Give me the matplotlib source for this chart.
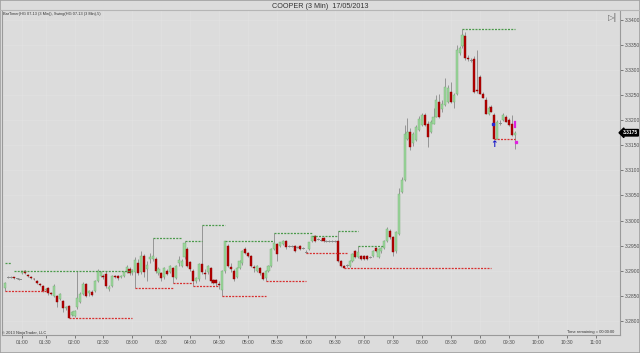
import numpy as np
import matplotlib
matplotlib.use("Agg")
import matplotlib.pyplot as plt
from matplotlib.patches import Rectangle
import matplotlib.transforms as mtransforms

plt.rcParams['font.family'] = ['Liberation Sans', 'DejaVu Sans']

# ---------------- data ----------------
title = "COOPER (3 Min)  17/05/2013"
indicator_text = "BarTimer(HG 07-13 (3 Min)), Swing(HG 07-13 (3 Min),5)"
copyright_text = "\u00a9 2013 NinjaTrader, LLC"
timer_text = "Time remaining = 00:00:00"

# bar open times in minutes after midnight (two bars missing after 01:09)
bar_minutes = np.concatenate([np.arange(42, 70, 3), np.arange(78, 577, 3)])

opens = [
    3.2865, 3.2888, 3.2888, 3.2887, 3.2885, 3.2884, 3.2895, 3.2900, 3.2892, 3.2888,
    3.2884, 3.2880, 3.2874, 3.2870, 3.2862, 3.2866, 3.2856, 3.2850, 3.2849, 3.2844,
    3.2839, 3.2826, 3.2829, 3.2812, 3.2810, 3.2827, 3.2838, 3.2853, 3.2873, 3.2856,
    3.2858, 3.2860, 3.2880, 3.2890, 3.2890, 3.2893, 3.2864, 3.2870, 3.2890, 3.2890,
    3.2888, 3.2890, 3.2897, 3.2904, 3.2895, 3.2898, 3.2915, 3.2897, 3.2930, 3.2904,
    3.2924, 3.2924, 3.2924, 3.2896, 3.2895, 3.2888, 3.2900, 3.2898, 3.2905, 3.2885,
    3.2916, 3.2910, 3.2927, 3.2943, 3.2917, 3.2900, 3.2880, 3.2883, 3.2913, 3.2896,
    3.2897, 3.2905, 3.2881, 3.2881, 3.2874, 3.2861, 3.2900, 3.2950, 3.2908, 3.2900,
    3.2888, 3.2905, 3.2915, 3.2943, 3.2935, 3.2930, 3.2908, 3.2900, 3.2905, 3.2895,
    3.2885, 3.2900, 3.2910, 3.2943, 3.2953, 3.2950, 3.2953, 3.2960, 3.2950, 3.2950,
    3.2950, 3.2948, 3.2950, 3.2946, 3.2938, 3.2943, 3.2959, 3.2970, 3.2964, 3.2962,
    3.2965, 3.2960, 3.2960, 3.2960, 3.2960, 3.2960, 3.2920, 3.2910, 3.2912, 3.2910,
    3.2919, 3.2940, 3.2927, 3.2930, 3.2930, 3.2930, 3.2928, 3.2930, 3.2945, 3.2927,
    3.2939, 3.2945, 3.2960, 3.2980, 3.2967, 3.2940, 3.2973, 3.3057, 3.3080, 3.3163,
    3.3177, 3.3154, 3.3160, 3.3180, 3.3190, 3.3210, 3.3193, 3.3177, 3.3193, 3.3207,
    3.3237, 3.3223, 3.3230, 3.3237, 3.3257, 3.3237, 3.3253, 3.3333, 3.3347, 3.3367,
    3.3324, 3.3320, 3.3321, 3.3260, 3.3287, 3.3252, 3.3240, 3.3212, 3.3227, 3.3210,
    3.3163, 3.3194, 3.3200, 3.3207, 3.3201, 3.3192, 3.3170,
]
highs = [
    3.2878, 3.2890, 3.2889, 3.2888, 3.2886, 3.2886, 3.2900, 3.2901, 3.2894, 3.2890,
    3.2885, 3.2882, 3.2876, 3.2872, 3.2865, 3.2868, 3.2858, 3.2874, 3.2852, 3.2856,
    3.2842, 3.2830, 3.2832, 3.2820, 3.2822, 3.2900, 3.2858, 3.2878, 3.2876, 3.2862,
    3.2862, 3.2882, 3.2904, 3.2899, 3.2894, 3.2900, 3.2872, 3.2892, 3.2892, 3.2892,
    3.2892, 3.2900, 3.2912, 3.2908, 3.2904, 3.2927, 3.2924, 3.2940, 3.2934, 3.2920,
    3.2936, 3.2965, 3.2928, 3.2908, 3.2898, 3.2908, 3.2904, 3.2912, 3.2908, 3.2912,
    3.2930, 3.2924, 3.2960, 3.2948, 3.2920, 3.2904, 3.2888, 3.2916, 3.2991, 3.2904,
    3.2912, 3.2908, 3.2884, 3.2884, 3.2880, 3.2902, 3.2960, 3.2954, 3.2916, 3.2904,
    3.2908, 3.2922, 3.2942, 3.2948, 3.2938, 3.2932, 3.2912, 3.2912, 3.2908, 3.2898,
    3.2902, 3.2912, 3.2946, 3.2975, 3.2956, 3.2958, 3.2962, 3.2962, 3.2952, 3.2952,
    3.2952, 3.2950, 3.2952, 3.2948, 3.2942, 3.2958, 3.2970, 3.2971, 3.2966, 3.2964,
    3.2968, 3.2962, 3.2962, 3.2962, 3.2962, 3.2979, 3.2922, 3.2912, 3.2914, 3.2922,
    3.2936, 3.2942, 3.2950, 3.2932, 3.2932, 3.2932, 3.2930, 3.2942, 3.2948, 3.2946,
    3.2948, 3.2962, 3.2988, 3.2984, 3.2970, 3.2980, 3.3064, 3.3087, 3.3190, 3.3204,
    3.3184, 3.3176, 3.3190, 3.3208, 3.3214, 3.3214, 3.3198, 3.3200, 3.3224, 3.3250,
    3.3253, 3.3240, 3.3284, 3.3270, 3.3276, 3.3254, 3.3350, 3.3348, 3.3382, 3.3376,
    3.3330, 3.3324, 3.3328, 3.3340, 3.3290, 3.3256, 3.3246, 3.3228, 3.3230, 3.3214,
    3.3200, 3.3200, 3.3214, 3.3210, 3.3204, 3.3210, 3.3178,
]
lows = [
    3.2859, 3.2886, 3.2886, 3.2884, 3.2883, 3.2882, 3.2894, 3.2894, 3.2888, 3.2884,
    3.2881, 3.2874, 3.2870, 3.2858, 3.2860, 3.2852, 3.2852, 3.2848, 3.2827, 3.2842,
    3.2818, 3.2822, 3.2805, 3.2810, 3.2808, 3.2824, 3.2836, 3.2852, 3.2848, 3.2850,
    3.2850, 3.2858, 3.2878, 3.2888, 3.2884, 3.2866, 3.2860, 3.2868, 3.2886, 3.2882,
    3.2886, 3.2888, 3.2896, 3.2892, 3.2892, 3.2865, 3.2892, 3.2894, 3.2888, 3.2880,
    3.2916, 3.2920, 3.2896, 3.2892, 3.2880, 3.2884, 3.2892, 3.2896, 3.2875, 3.2884,
    3.2910, 3.2908, 3.2924, 3.2908, 3.2900, 3.2869, 3.2876, 3.2880, 3.2894, 3.2884,
    3.2894, 3.2876, 3.2874, 3.2869, 3.2864, 3.2849, 3.2896, 3.2908, 3.2898, 3.2880,
    3.2886, 3.2904, 3.2912, 3.2934, 3.2928, 3.2908, 3.2898, 3.2898, 3.2892, 3.2882,
    3.2880, 3.2898, 3.2908, 3.2942, 3.2920, 3.2948, 3.2952, 3.2944, 3.2948, 3.2948,
    3.2938, 3.2946, 3.2942, 3.2944, 3.2935, 3.2942, 3.2958, 3.2958, 3.2962, 3.2960,
    3.2958, 3.2958, 3.2958, 3.2958, 3.2958, 3.2918, 3.2908, 3.2905, 3.2908, 3.2908,
    3.2918, 3.2926, 3.2926, 3.2922, 3.2922, 3.2922, 3.2926, 3.2928, 3.2938, 3.2926,
    3.2936, 3.2944, 3.2958, 3.2964, 3.2930, 3.2936, 3.2972, 3.3054, 3.3078, 3.3160,
    3.3140, 3.3148, 3.3158, 3.3178, 3.3188, 3.3188, 3.3147, 3.3174, 3.3192, 3.3206,
    3.3204, 3.3216, 3.3228, 3.3234, 3.3234, 3.3224, 3.3250, 3.3330, 3.3344, 3.3320,
    3.3318, 3.3316, 3.3254, 3.3254, 3.3252, 3.3244, 3.3212, 3.3210, 3.3216, 3.3162,
    3.3162, 3.3190, 3.3198, 3.3196, 3.3188, 3.3168, 3.3143,
]
closes = [
    3.2875, 3.2888, 3.2888, 3.2886, 3.2885, 3.2884, 3.2899, 3.2895, 3.2890, 3.2886,
    3.2883, 3.2875, 3.2872, 3.2859, 3.2864, 3.2855, 3.2854, 3.2870, 3.2837, 3.2854,
    3.2825, 3.2828, 3.2806, 3.2818, 3.2820, 3.2845, 3.2854, 3.2873, 3.2850, 3.2860,
    3.2852, 3.2880, 3.2900, 3.2898, 3.2888, 3.2870, 3.2868, 3.2890, 3.2888, 3.2885,
    3.2890, 3.2898, 3.2907, 3.2895, 3.2902, 3.2922, 3.2895, 3.2930, 3.2897, 3.2912,
    3.2928, 3.2930, 3.2900, 3.2904, 3.2885, 3.2905, 3.2893, 3.2910, 3.2888, 3.2910,
    3.2922, 3.2920, 3.2955, 3.2910, 3.2903, 3.2880, 3.2885, 3.2913, 3.2897, 3.2894,
    3.2910, 3.2879, 3.2875, 3.2875, 3.2872, 3.2900, 3.2959, 3.2910, 3.2904, 3.2883,
    3.2905, 3.2920, 3.2940, 3.2935, 3.2930, 3.2910, 3.2906, 3.2910, 3.2895, 3.2883,
    3.2900, 3.2910, 3.2943, 3.2955, 3.2933, 3.2957, 3.2960, 3.2947, 3.2950, 3.2950,
    3.2940, 3.2948, 3.2943, 3.2946, 3.2938, 3.2957, 3.2969, 3.2960, 3.2964, 3.2962,
    3.2959, 3.2960, 3.2960, 3.2960, 3.2960, 3.2920, 3.2910, 3.2906, 3.2912, 3.2920,
    3.2933, 3.2927, 3.2937, 3.2923, 3.2924, 3.2924, 3.2928, 3.2940, 3.2939, 3.2943,
    3.2945, 3.2960, 3.2983, 3.2967, 3.2937, 3.2977, 3.3053, 3.3080, 3.3173, 3.3177,
    3.3147, 3.3172, 3.3187, 3.3203, 3.3210, 3.3190, 3.3167, 3.3197, 3.3207, 3.3240,
    3.3207, 3.3233, 3.3267, 3.3264, 3.3237, 3.3250, 3.3340, 3.3343, 3.3370, 3.3323,
    3.3322, 3.3320, 3.3257, 3.3258, 3.3253, 3.3245, 3.3213, 3.3225, 3.3217, 3.3163,
    3.3197, 3.3194, 3.3211, 3.3197, 3.3190, 3.3170, 3.3175,
]

# swing lines: price level, first bar, last bar
swing_high_price = [3.2915, 3.2900, 3.2965, 3.2960, 3.2991, 3.2960, 3.2975, 3.2970, 3.2979, 3.2950, 3.3382]
swing_high_from = [0, 3, 51, 62, 68, 76, 93, 106, 115, 122, 158]
swing_high_to = [2, 44, 61, 68, 76, 93, 106, 115, 122, 131, 176]
swing_low_price = [3.2859, 3.2805, 3.2865, 3.2875, 3.2869, 3.2849, 3.2880, 3.2935, 3.2905, 3.3162]
swing_low_from = [0, 22, 45, 58, 65, 75, 90, 104, 117, 169]
swing_low_to = [14, 44, 58, 65, 74, 90, 104, 118, 168, 176]

# signal markers
up_arrow_bar, up_arrow_price = 169, 3.3151
blue_dot_bar, blue_dot_price = 169, 3.3192
pink_bar_bar, pink_bar_low, pink_bar_high = 176, 3.3187, 3.3197
pink_dot_bar, pink_dot_price = 176, 3.3157

tick_labels = ["01:00", "01:30", "02:00", "02:30", "03:00", "03:30", "04:00", "04:30",
               "05:00", "05:30", "06:00", "06:30", "07:00", "07:30", "08:00", "08:30",
               "09:00", "09:30", "10:00", "10:30", "11:00"]
price_ticks = [3.2800, 3.2850, 3.2900, 3.2950, 3.3000, 3.3050, 3.3100, 3.3150,
               3.3200, 3.3250, 3.3300, 3.3350, 3.3400]
last_price = 3.3175

# ---------------- styling ----------------
BG = "#dcdcdc"
UP_FILL = "#9cd69c"
UP_EDGE = "#74b074"
DN_FILL = "#b40000"
DN_EDGE = "#8a0000"
WICK = "#8a8a8a"
SW_HIGH = "#4b9a4b"
SW_LOW = "#d83030"
TXT = "#505050"

W, H = 640, 353
fig = plt.figure(figsize=(W / 100, H / 100), dpi=100, facecolor=BG)
ax = fig.add_axes([2 / W, (H - 335) / H, 618 / W, 324 / H], facecolor=BG)

n = len(opens)

def bar_pos(label):
    hh, mm = label.split(":")
    m = int(hh) * 60 + int(mm)
    idx = np.where(bar_minutes == m)[0]
    if len(idx):
        return float(idx[0])
    return (n - 1) + (m - bar_minutes[-1]) / 3.0

tick_pos = [bar_pos(t) for t in tick_labels]

# faint grid
for p in price_ticks:
    ax.axhline(p, color="#e3e3e3", lw=0.4, zorder=0)
for tp in tick_pos:
    ax.axvline(tp, color="#e3e3e3", lw=0.4, zorder=0)

# candles
bw = 0.72
min_h = 0.00005
for i in range(n):
    o, h, l, c = opens[i], highs[i], lows[i], closes[i]
    ax.plot([i, i], [l, h], color=WICK, lw=0.6, zorder=2, solid_capstyle="butt")
    if abs(c - o) < 1e-9:
        ax.plot([i - bw / 2, i + bw / 2], [o, o], color="#8a8a8a", lw=0.7, zorder=3)
        continue
    up = c > o
    ax.add_patch(Rectangle((i - bw / 2, min(o, c)), bw, max(abs(c - o), min_h),
                           facecolor=UP_FILL if up else DN_FILL,
                           edgecolor=UP_EDGE if up else DN_EDGE, lw=0.3, zorder=3))

# swing lines
for p, a, b in zip(swing_high_price, swing_high_from, swing_high_to):
    ax.plot([a, b], [p, p], color=SW_HIGH, lw=0.9, ls=(0, (1.6, 1.0)), zorder=4)
for p, a, b in zip(swing_low_price, swing_low_from, swing_low_to):
    ax.plot([a, b], [p, p], color=SW_LOW, lw=0.9, ls=(0, (1.6, 1.0)), zorder=4)

# markers
ax.text(up_arrow_bar, up_arrow_price, "\u2191", color="#1818c8", fontsize=6.5,
        fontweight="bold", ha="center", va="center", family="DejaVu Sans", zorder=6)
ax.plot([blue_dot_bar - 0.5], [blue_dot_price], marker="s", ms=1.6, color="#2a2ad0", zorder=6)
ax.plot([pink_bar_bar, pink_bar_bar], [pink_bar_low, pink_bar_high], color="#e020e0", lw=1.6, zorder=6)
ax.plot([pink_dot_bar + 0.4], [pink_dot_price], marker="s", ms=1.4, color="#e020e0", zorder=6)

# axes limits
ax.set_xlim(-1.04, 212.4)
ax.set_ylim(3.27721, 3.34175)

# ticks
ax.yaxis.tick_right()
ax.set_yticks(price_ticks)
ax.set_yticklabels([f"{p:.4f}" for p in price_ticks])
ax.set_xticks(tick_pos)
ax.set_xticklabels(tick_labels)
ax.tick_params(axis="both", labelsize=3.6, colors=TXT, length=2, width=0.5, pad=1.5)

ax.spines["top"].set_visible(False)
for side in ["left", "right", "bottom"]:
    ax.spines[side].set_color("#9a9a9a")
    ax.spines[side].set_linewidth(0.8)

# last price tag
trans = mtransforms.blended_transform_factory(ax.transAxes, ax.transData)
ax.text(1.004, last_price, f"{last_price:.4f}", transform=trans, fontsize=3.5,
        color="white", fontweight="bold", ha="left", va="center", zorder=10,
        bbox=dict(boxstyle="larrow,pad=0.15", facecolor="black", edgecolor="black"),
        clip_on=False)

# texts
fig.text(0.5, 1 - 6 / H, title, ha="center", va="center", fontsize=5.2, color="#333333")
fig.add_artist(plt.Line2D([0, 1], [1 - 10 / H, 1 - 10 / H], color="#b5b5b5", lw=0.8))
fig.text(3 / W, 1 - 14.5 / H, indicator_text, ha="left", va="center", fontsize=2.8, color="#333333")
fig.text(2.5 / W, 1 - 333 / H, copyright_text, ha="left", va="center", fontsize=2.9, color="#333333")
fig.text(614 / W, 1 - 332 / H, timer_text, ha="right", va="center", fontsize=2.9, color="#333333")
fig.text(613 / W, 1 - 17 / H, "\u25b7|", ha="center", va="center", fontsize=6, color="#606060",
         family="DejaVu Sans")

# outer frame
fig.add_artist(plt.Rectangle((0, 0), 1, 1, transform=fig.transFigure, fill=False,
                             edgecolor="#a0a0a0", lw=1.2))

fig.savefig("out.png", dpi=100, facecolor=BG)
